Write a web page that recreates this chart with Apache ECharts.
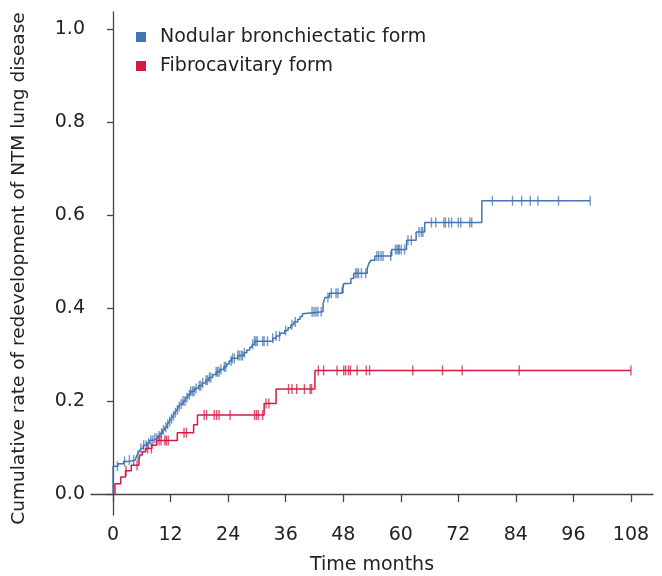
<!DOCTYPE html>
<html><head><meta charset="utf-8">
<script src="https://cdn.jsdelivr.net/npm/echarts@6/dist/echarts.min.js"></script>
<style>html,body{margin:0;padding:0;background:#fff}#c{width:662px;height:576px}</style>
</head><body><div id="c"></div>
<script>
const xTicks = [0, 12, 24, 36, 48, 60, 72, 84, 96, 108];
const yTicks = [0, 0.2, 0.4, 0.6, 0.8, 1.0];
const seriesNames = ['Nodular bronchiectatic form', 'Fibrocavitary form'];

// Nodular bronchiectatic form: step times (months) and cumulative rate after each step
const nbTimes = [0, 0, 1.0, 2.2, 3.2, 4.6, 5.0, 5.4, 5.8, 6.3, 7.0, 7.6, 8.5, 9.3, 9.8, 10.3, 10.8, 11.3, 11.7, 12.1, 12.5, 12.9, 13.3, 13.7, 14.1, 14.6, 15.1, 15.6, 16.2, 17.0, 17.8, 18.6, 19.3, 20.0, 20.8, 21.5, 22.3, 23.1, 23.7, 24.2, 24.7, 26.0, 27.3, 27.9, 28.5, 29.0, 29.5, 33.3, 34.0, 34.8, 35.8, 36.5, 37.1, 37.7, 38.5, 39.0, 39.5, 39.9, 43.8, 44.2, 45.1, 47.8, 48.2, 49.6, 50.2, 53.0, 53.4, 53.8, 54.6, 58.1, 61.2, 63.2, 65.0, 76.9, 99.5];
const nbValues = [0, 0.060, 0.065, 0.070, 0.073, 0.077, 0.084, 0.091, 0.098, 0.105, 0.110, 0.116, 0.120, 0.125, 0.131, 0.138, 0.144, 0.150, 0.156, 0.162, 0.168, 0.175, 0.181, 0.188, 0.194, 0.200, 0.207, 0.214, 0.221, 0.227, 0.233, 0.239, 0.245, 0.251, 0.257, 0.263, 0.268, 0.274, 0.280, 0.286, 0.292, 0.298, 0.304, 0.310, 0.316, 0.322, 0.329, 0.335, 0.340, 0.346, 0.352, 0.358, 0.364, 0.370, 0.376, 0.382, 0.388, 0.392, 0.410, 0.423, 0.432, 0.443, 0.453, 0.464, 0.475, 0.486, 0.497, 0.503, 0.512, 0.526, 0.546, 0.564, 0.584, 0.631, 0.631];
const nbCensored = [0.9, 2.4, 3.4, 4.3, 5.2, 5.8, 6.4, 6.9, 7.4, 7.9, 8.3, 8.7, 9.1, 9.6, 10.1, 10.5, 11.0, 11.4, 11.8, 12.2, 12.6, 13.0, 13.4, 13.8, 14.2, 14.6, 15.0, 15.4, 15.9, 16.2, 16.6, 16.9, 17.3, 18.0, 18.3, 18.7, 19.4, 19.7, 20.1, 20.4, 21.5, 21.8, 22.1, 22.5, 23.2, 23.5, 24.6, 24.9, 25.3, 26.0, 26.3, 26.7, 27.0, 27.4, 29.1, 29.5, 29.8, 30.1, 31.2, 31.5, 32.2, 33.3, 34.0, 34.7, 36.0, 37.3, 38.0, 41.5, 41.9, 42.3, 42.7, 43.4, 44.8, 45.5, 46.5, 46.9, 48.0, 50.6, 50.9, 51.2, 51.8, 52.7, 55.0, 55.4, 55.9, 56.3, 57.9, 58.9, 59.2, 59.5, 59.7, 60.1, 60.8, 61.5, 62.2, 63.8, 64.3, 64.6, 66.4, 67.3, 69.0, 69.3, 70.0, 70.6, 72.0, 72.5, 74.4, 74.8, 79.1, 83.3, 85.2, 87.0, 88.6, 92.9, 99.5];

// Fibrocavitary form
const fcTimes = [0.4, 0.4, 1.6, 2.6, 3.8, 5.4, 5.6, 6.1, 6.8, 8.1, 9.1, 13.4, 16.8, 17.6, 31.5, 34.0, 42.1, 108];
const fcValues = [0, 0.022, 0.037, 0.050, 0.062, 0.073, 0.084, 0.091, 0.098, 0.105, 0.115, 0.132, 0.149, 0.170, 0.195, 0.226, 0.266, 0.266];
const fcCensored = [2.7, 5.0, 7.2, 8.0, 9.6, 10.0, 10.8, 11.1, 11.5, 14.8, 15.3, 19.0, 19.5, 21.1, 21.6, 22.1, 24.4, 29.5, 29.9, 30.3, 31.2, 31.9, 32.5, 36.6, 37.3, 38.3, 39.9, 41.1, 41.4, 42.8, 43.9, 46.7, 48.1, 48.5, 49.1, 49.5, 50.9, 52.8, 53.5, 62.5, 68.7, 72.8, 84.7, 108];

const blue = '#4574b2';
const red = '#d6193f';

function pairs(ts, vs) { return ts.map((t, i) => [t, vs[i]]); }
function valueAt(ts, vs, t) {
  let v = vs[0];
  for (let i = 0; i < ts.length; i++) { if (ts[i] <= t) v = vs[i]; }
  return v;
}
function censorPts(cs, ts, vs) { return cs.map(t => [t, valueAt(ts, vs, t)]); }

const FONT = '"DejaVu Sans"';
const FS = 19;
const chart = echarts.init(document.getElementById('c'), null, {renderer: 'canvas'});
chart.setOption({
  animation: false,
  backgroundColor: '#fff',
  grid: {left: 91, right: 9, top: 12, bottom: 61, containLabel: false, outerBoundsMode: 'none'},
  legend: {
    orient: 'vertical', left: 131, top: 21, itemWidth: 10, itemHeight: 10, itemGap: 7,
    data: [{name: seriesNames[0], icon: 'rect'}, {name: seriesNames[1], icon: 'rect'}],
    textStyle: {fontFamily: FONT, fontSize: FS, color: '#222', lineHeight: 22, padding: [0, 0, 0, 9]},
    selectedMode: false
  },
  xAxis: {
    type: 'value', min: -4.6, max: 112.6,
    name: 'Time months', nameLocation: 'middle', nameGap: 41,
    nameTextStyle: {fontFamily: FONT, fontSize: FS, color: '#222'},
    axisLine: {show: true, lineStyle: {color: '#444', width: 1.3}},
    axisTick: {show: true, length: 8, customValues: xTicks, lineStyle: {color: '#444', width: 1.3}},
    axisLabel: {customValues: xTicks, fontFamily: FONT, fontSize: FS, color: '#222', margin: 11},
    splitLine: {show: false}
  },
  yAxis: {
    type: 'value', min: -0.045, max: 1.037,
    name: 'Cumulative rate of redevelopment of NTM lung disease', nameLocation: 'middle', nameGap: 62,
    nameRotate: 90,
    nameTextStyle: {fontFamily: FONT, fontSize: 18.5, color: '#222', padding: [0, 10, 0, 0]},
    axisLine: {show: true, lineStyle: {color: '#444', width: 1.3}},
    axisTick: {show: true, length: 6, customValues: yTicks, lineStyle: {color: '#444', width: 1.3}},
    axisLabel: {customValues: yTicks, fontFamily: FONT, fontSize: FS, color: '#222', margin: 6,
      formatter: v => v.toFixed(1)},
    splitLine: {show: false}
  },
  series: [
    {name: seriesNames[0], type: 'line', step: 'end', data: pairs(nbTimes, nbValues), symbol: 'none',
      lineStyle: {color: blue, width: 1.5}, itemStyle: {color: blue}, z: 3},
    {name: seriesNames[1], type: 'line', step: 'end', data: pairs(fcTimes, fcValues), symbol: 'none',
      lineStyle: {color: red, width: 1.5}, itemStyle: {color: red}, z: 4},
    {name: 'nbc', type: 'scatter', data: censorPts(nbCensored, nbTimes, nbValues), symbol: 'rect',
      symbolSize: [1.4, 10], itemStyle: {color: blue, opacity: 0.75}, z: 3, silent: true},
    {name: 'fcc', type: 'scatter', data: censorPts(fcCensored, fcTimes, fcValues), symbol: 'rect',
      symbolSize: [1.4, 10], itemStyle: {color: red, opacity: 0.75}, z: 4, silent: true}
  ]
});
</script></body></html>
